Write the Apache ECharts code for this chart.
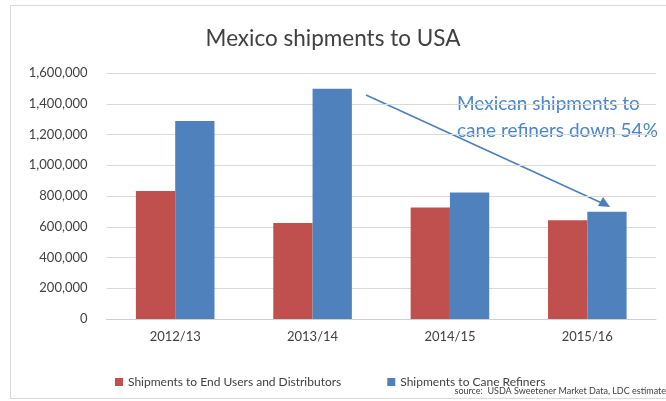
<!DOCTYPE html>
<html>
<head>
<meta charset="utf-8">
<script src="https://cdn.jsdelivr.net/npm/echarts@6/dist/echarts.min.js"></script>
<style>
html,body{margin:0;padding:0;background:#fff;}
#c{width:666px;height:401px;}
</style>
</head>
<body>
<div id="c"></div>
<script>
const categories = ['2012/13', '2013/14', '2014/15', '2015/16'];
const endUsers = [833000, 625000, 725000, 643000];
const caneRefiners = [1288000, 1497000, 823000, 697000];
const seriesNames = ['Shipments to End Users and Distributors', 'Shipments to Cane Refiners'];
const yTicks = { min: 0, max: 1600000, interval: 200000 };
const titleText = 'Mexico shipments to USA';
const noteLines = ['Mexican shipments to', 'cane refiners down 54%'];
const sourceText = 'source:  USDA Sweetener Market Data, LDC estimate';

const FONT = 'Lato, "Open Sans", sans-serif';
const chart = echarts.init(document.getElementById('c'), null, {renderer: 'canvas'});
chart.setOption({
  backgroundColor: '#fff',
  animation: false,
  title: {
    text: titleText, left: 'center', top: 22,
    textStyle: {fontFamily: FONT, fontSize: 22.5, fontWeight: 'normal', color: '#404040'}
  },
  legend: {
    left: 110, top: 371, itemWidth: 8, itemHeight: 8, itemGap: 46, icon: 'rect',
    textStyle: {fontFamily: FONT, fontSize: 12, color: '#404040'},
    data: seriesNames
  },
  grid: {left: 106.5, right: 10, top: 73, bottom: 82, containLabel: false},
  xAxis: {
    type: 'category', data: categories,
    axisLine: {lineStyle: {color: '#d0d0d0'}},
    axisTick: {show: false},
    axisLabel: {fontFamily: FONT, fontSize: 13, color: '#404040', margin: 11}
  },
  yAxis: {
    type: 'value', min: yTicks.min, max: yTicks.max, interval: yTicks.interval,
    axisLine: {show: false}, axisTick: {show: false},
    splitLine: {lineStyle: {color: '#d9d9d9', width: 1}},
    axisLabel: {fontFamily: FONT, fontSize: 13, color: '#404040', margin: 19,
      formatter: v => v.toLocaleString('en-US')}
  },
  series: [
    {name: seriesNames[0], type: 'bar', data: endUsers, barGap: '0%', barCategoryGap: '42.8%',
     itemStyle: {color: '#c0504d'}},
    {name: seriesNames[1], type: 'bar', data: caneRefiners, barGap: '0%', barCategoryGap: '42.8%',
     itemStyle: {color: '#4f81bd'}}
  ],
  graphic: [
    {type: 'rect', shape: {x: 10.5, y: 5.5, width: 670, height: 393}, z: -1,
     style: {fill: 'none', stroke: '#d9d9d9', lineWidth: 1}},
    {type: 'text', left: 457, top: 90,
     style: {text: noteLines.join('\n'), fontFamily: FONT, fontSize: 19, lineHeight: 27,
             fill: '#4a86c8', textAlign: 'left'}},
    {type: 'line', shape: {x1: 366, y1: 95, x2: 604, y2: 204},
     style: {stroke: '#4a7ebb', lineWidth: 1.5}},
    {type: 'polygon', shape: {points: [[610, 207], [598, 206], [603, 197]]},
     style: {fill: '#4a7ebb'}},
    {type: 'text', right: 0, top: 387,
     style: {text: sourceText, fontFamily: FONT, fontSize: 9, fill: '#404040'}}
  ]
});
</script>
</body>
</html>
